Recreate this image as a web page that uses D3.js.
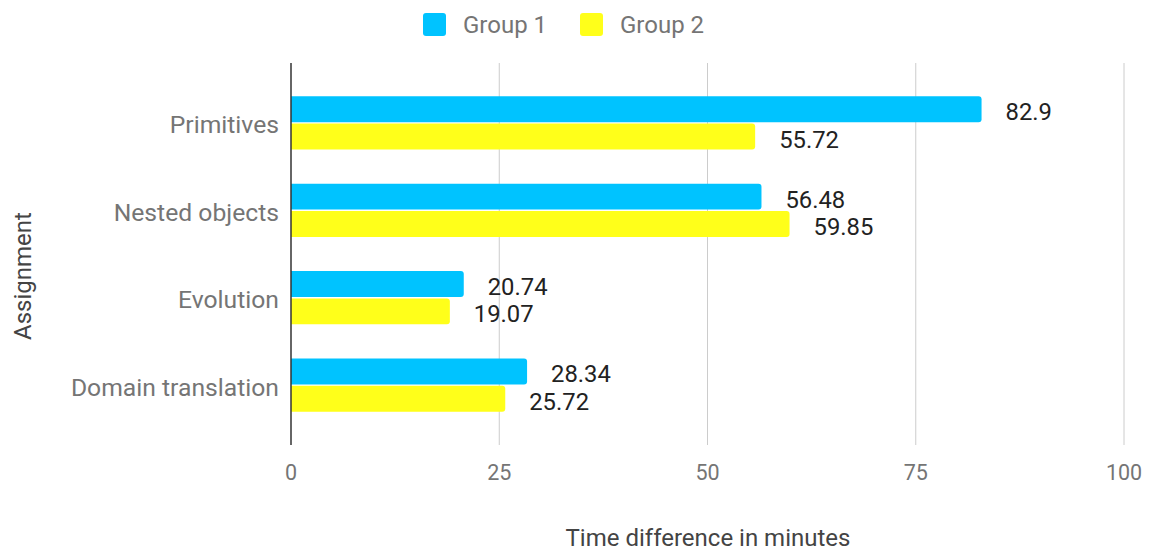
<!DOCTYPE html>
<html>
<head>
<meta charset="utf-8">
<script src="https://cdn.jsdelivr.net/npm/d3@7"></script>
<style>
  html, body { margin: 0; padding: 0; background: #fff; }
  svg { display: block; font-family: Roboto, "Noto Sans", sans-serif; }
</style>
</head>
<body>
<svg id="chart" width="1153" height="551"></svg>
<script>
// Time difference per assignment, two groups
const categories = ["Primitives", "Nested objects", "Evolution", "Domain translation"];
const seriesNames = ["Group 1", "Group 2"];
const group1 = [82.9, 56.48, 20.74, 28.34];
const group2 = [55.72, 59.85, 19.07, 25.72];
const xTicks = [0, 25, 50, 75, 100];
const colors = ["#00c3ff", "#ffff1a"];

const svg = d3.select("#chart");
const plot = { left: 291, right: 1124, top: 63, bottom: 445 };

const x = d3.scaleLinear().domain([0, 100]).range([plot.left, plot.right]);
const y = d3.scaleBand().domain(categories).range([plot.top, plot.bottom])
  .paddingInner(0.39).paddingOuter(0.38);
const ySub = d3.scaleBand().domain(seriesNames).range([0, y.bandwidth()]).paddingInner(0.05);

const values = [group1, group2];

// vertical gridlines
svg.append("g").selectAll("line").data(xTicks.filter(d => d !== 0)).join("line")
  .attr("x1", d => x(d)).attr("x2", d => x(d))
  .attr("y1", plot.top).attr("y2", plot.bottom)
  .attr("stroke", "#cccccc").attr("stroke-width", 1);

// x tick labels
svg.append("g").selectAll("text").data(xTicks).join("text")
  .attr("x", d => x(d)).attr("y", 472)
  .attr("text-anchor", "middle").attr("dominant-baseline", "central")
  .attr("font-size", 21.5).attr("fill", "#757575")
  .text(d => d);

// bars with rounded right end
function barPath(x0, x1, y0, h, r) {
  r = Math.min(r, (x1 - x0) / 2, h / 2);
  return `M${x0},${y0}H${x1 - r}Q${x1},${y0} ${x1},${y0 + r}V${y0 + h - r}Q${x1},${y0 + h} ${x1 - r},${y0 + h}H${x0}Z`;
}

const rows = [];
categories.forEach((c, i) => {
  seriesNames.forEach((s, j) => rows.push({ c, s, v: values[j][i], j }));
});

svg.append("g").selectAll("path").data(rows).join("path")
  .attr("d", d => barPath(x(0), x(d.v), y(d.c) + ySub(d.s), ySub.bandwidth(), 3))
  .attr("fill", d => colors[d.j]);

// value labels
svg.append("g").selectAll("text").data(rows).join("text")
  .attr("x", d => x(d.v) + 24)
  .attr("y", d => y(d.c) + ySub(d.s) + ySub.bandwidth() / 2 + 3)
  .attr("dominant-baseline", "central")
  .attr("font-size", 23.8).attr("fill", "#222222")
  .text(d => d.v);

// zero axis line
svg.append("line")
  .attr("x1", x(0)).attr("x2", x(0))
  .attr("y1", plot.top).attr("y2", plot.bottom)
  .attr("stroke", "#333333").attr("stroke-width", 1.5);

// category labels
svg.append("g").selectAll("text").data(categories).join("text")
  .attr("x", 279).attr("y", d => y(d) + y.bandwidth() / 2 + 2)
  .attr("text-anchor", "end").attr("dominant-baseline", "central")
  .attr("font-size", 24.7).attr("fill", "#757575")
  .text(d => d);

// axis titles
svg.append("text")
  .attr("x", 708).attr("y", 538)
  .attr("text-anchor", "middle").attr("dominant-baseline", "central")
  .attr("font-size", 24).attr("fill", "#444444")
  .text("Time difference in minutes");

svg.append("text")
  .attr("transform", "translate(23,276) rotate(-90)")
  .attr("text-anchor", "middle").attr("dominant-baseline", "central")
  .attr("font-size", 24).attr("fill", "#444444")
  .text("Assignment");

// legend
const legend = svg.append("g");
const legendX = [423, 580];
seriesNames.forEach((s, j) => {
  legend.append("rect")
    .attr("x", legendX[j]).attr("y", 13).attr("width", 23).attr("height", 23)
    .attr("rx", 3).attr("fill", colors[j]);
  legend.append("text")
    .attr("x", legendX[j] + 40).attr("y", 25)
    .attr("dominant-baseline", "central")
    .attr("font-size", 24).attr("fill", "#757575")
    .text(s);
});
</script>
</body>
</html>
